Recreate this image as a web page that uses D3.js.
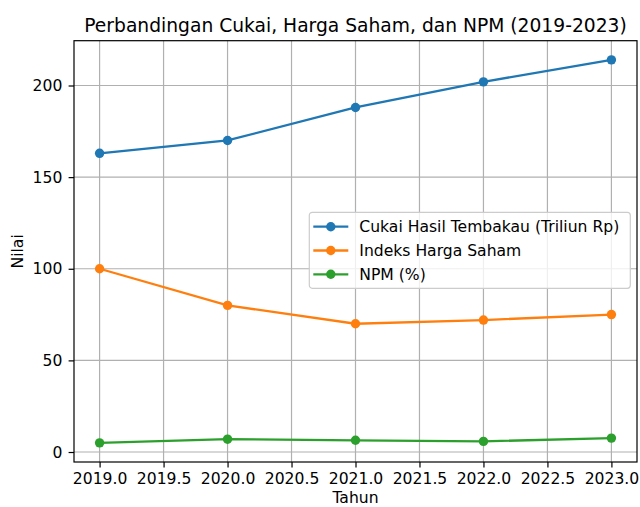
<!DOCTYPE html>
<html>
<head>
<meta charset="utf-8">
<script src="https://cdn.jsdelivr.net/npm/d3@7"></script>
<style>
  body { margin: 0; background: #fff; }
  svg { display: block; font-family: "DejaVu Sans", sans-serif; }
</style>
</head>
<body>
<svg id="chart" width="640" height="507"></svg>
<script>
const years = [2019, 2020, 2021, 2022, 2023];
const cukai = [163, 170, 188, 202, 214];
const hargaSaham = [100, 80, 70, 72, 75];
const npm = [5, 7, 6.4, 5.8, 7.6];
const seriesNames = ["Cukai Hasil Tembakau (Triliun Rp)", "Indeks Harga Saham", "NPM (%)"];
const seriesColors = ["#1f77b4", "#ff7f0e", "#2ca02c"];
const xTicks = [2019, 2019.5, 2020, 2020.5, 2021, 2021.5, 2022, 2022.5, 2023];
const yTicks = [0, 50, 100, 150, 200];

const series = [cukai, hargaSaham, npm].map((vals, i) => ({
    name: seriesNames[i],
    color: seriesColors[i],
    points: vals.map((v, j) => ({x: years[j], y: v}))
}));

const axLeft = 74, axRight = 637, axTop = 40.7, axBottom = 462;
const fs = 15.6;

// matplotlib-like 5% margins
const allY = [].concat(cukai, hargaSaham, npm);
const yMin = d3.min(allY), yMax = d3.max(allY);
const yPad = (yMax - yMin) * 0.05;
const xPad = (d3.max(years) - d3.min(years)) * 0.05;

const x = d3.scaleLinear()
    .domain([d3.min(years) - xPad, d3.max(years) + xPad])
    .range([axLeft, axRight]);
const y = d3.scaleLinear()
    .domain([yMin - yPad, yMax + yPad])
    .range([axBottom, axTop]);

const svg = d3.select("#chart");

// grid
svg.append("g")
    .selectAll("line")
    .data(xTicks)
    .join("line")
    .attr("x1", d => x(d)).attr("x2", d => x(d))
    .attr("y1", axTop).attr("y2", axBottom)
    .attr("stroke", "#b0b0b0")
    .attr("stroke-width", 1.2);
svg.append("g")
    .selectAll("line")
    .data(yTicks)
    .join("line")
    .attr("x1", axLeft).attr("x2", axRight)
    .attr("y1", d => y(d)).attr("y2", d => y(d))
    .attr("stroke", "#b0b0b0")
    .attr("stroke-width", 1.2);

// axes
const xAxis = d3.axisBottom(x)
    .tickValues(xTicks)
    .tickFormat(d3.format(".1f"))
    .tickSizeInner(5.4)
    .tickSizeOuter(0)
    .tickPadding(6);
const yAxis = d3.axisLeft(y)
    .tickValues(yTicks)
    .tickFormat(d3.format("d"))
    .tickSizeInner(5.4)
    .tickSizeOuter(0)
    .tickPadding(6.3);

const gx = svg.append("g")
    .attr("transform", `translate(0,${axBottom})`)
    .call(xAxis);
const gy = svg.append("g")
    .attr("transform", `translate(${axLeft},0)`)
    .call(yAxis);
[gx, gy].forEach(g => {
    g.select(".domain").remove();
    g.selectAll("line").attr("stroke", "#000").attr("stroke-width", 1.2);
    g.selectAll("text")
        .attr("fill", "#000")
        .attr("font-size", fs)
        .attr("font-family", "DejaVu Sans, sans-serif");
});

// lines and markers
const line = d3.line().x(d => x(d.x)).y(d => y(d.y));
const sg = svg.append("g")
    .selectAll("g")
    .data(series)
    .join("g");
sg.append("path")
    .attr("d", d => line(d.points))
    .attr("fill", "none")
    .attr("stroke", d => d.color)
    .attr("stroke-width", 2.3);
sg.selectAll("circle")
    .data(d => d.points.map(p => ({...p, color: d.color})))
    .join("circle")
    .attr("cx", d => x(d.x))
    .attr("cy", d => y(d.y))
    .attr("r", 4.7)
    .attr("fill", d => d.color);

// frame
svg.append("rect")
    .attr("x", axLeft).attr("y", axTop)
    .attr("width", axRight - axLeft).attr("height", axBottom - axTop)
    .attr("fill", "none")
    .attr("stroke", "#000")
    .attr("stroke-width", 1.2);

// legend
const legend = svg.append("g").attr("transform", "translate(309.3,212.3)");
legend.append("rect")
    .attr("width", 321).attr("height", 76)
    .attr("rx", 3)
    .attr("fill", "#fff").attr("fill-opacity", 0.8)
    .attr("stroke", "#cccccc").attr("stroke-width", 1.2);
const li = legend.selectAll("g.item")
    .data(series)
    .join("g")
    .attr("class", "item")
    .attr("transform", (d, i) => `translate(0,${14.4 + i * 23.8})`);
li.append("line")
    .attr("x1", 4).attr("x2", 39)
    .attr("stroke", d => d.color).attr("stroke-width", 2.3);
li.append("circle")
    .attr("cx", 21.5).attr("r", 4.7)
    .attr("fill", d => d.color);
li.append("text")
    .attr("x", 50).attr("dy", "0.37em")
    .attr("font-size", fs)
    .text(d => d.name);

// title and labels
svg.append("text")
    .attr("x", (axLeft + axRight) / 2).attr("y", 31.5)
    .attr("text-anchor", "middle")
    .attr("font-size", 18.7)
    .text("Perbandingan Cukai, Harga Saham, dan NPM (2019-2023)");
svg.append("text")
    .attr("x", (axLeft + axRight) / 2).attr("y", 503)
    .attr("text-anchor", "middle")
    .attr("font-size", fs)
    .text("Tahun");
svg.append("text")
    .attr("transform", `translate(23.3,${(axTop + axBottom) / 2}) rotate(-90)`)
    .attr("text-anchor", "middle")
    .attr("font-size", fs)
    .text("Nilai");
</script>
</body>
</html>
